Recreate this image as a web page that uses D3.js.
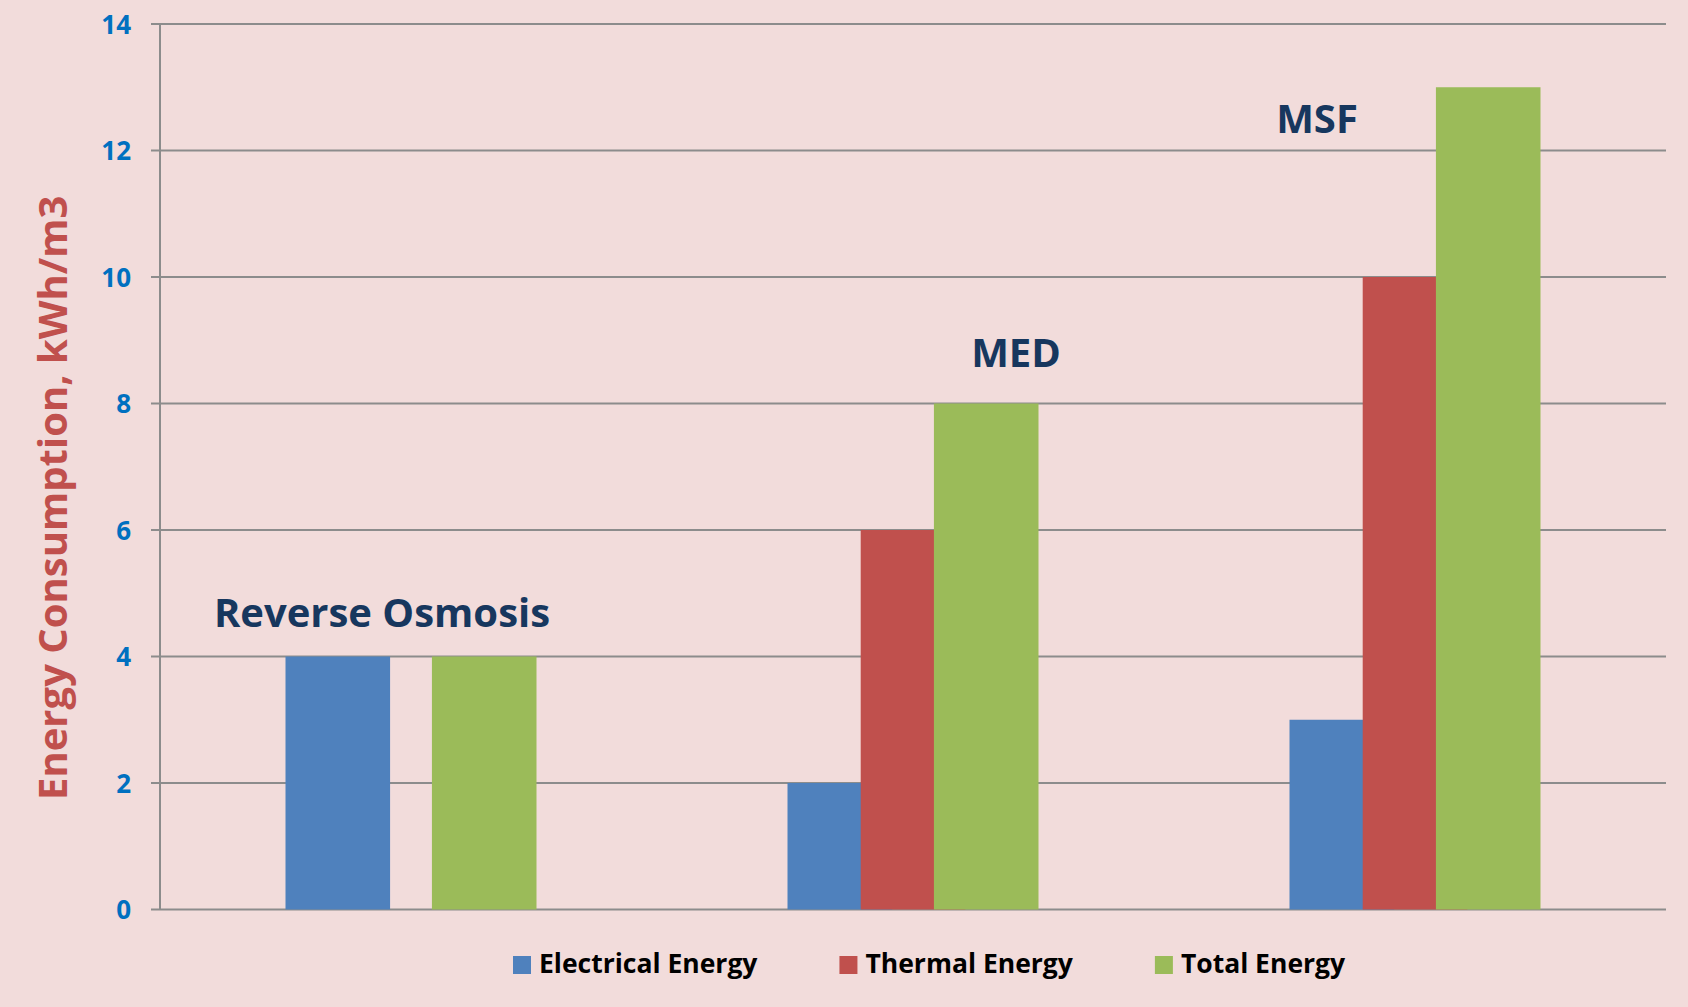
<!DOCTYPE html>
<html>
<head>
<meta charset="utf-8">
<script src="https://cdn.jsdelivr.net/npm/d3@7.9.0/dist/d3.min.js"></script>
<style>
  html, body { margin: 0; padding: 0; background: #F2DCDB; }
  svg { display: block; font-family: "Open Sans", "Lato", sans-serif; font-weight: bold; }
</style>
</head>
<body>
<svg id="chart" width="1688" height="1007"></svg>
<script>
const categories = ["Reverse Osmosis", "MED", "MSF"];
const seriesNames = ["Electrical Energy", "Thermal Energy", "Total Energy"];
const electrical = [4, 2, 3];
const thermal = [0, 6, 10];
const total = [4, 8, 13];
const yTicks = [0, 2, 4, 6, 8, 10, 12, 14];
// where the category labels sit (value units for y, px offset from group centre for x)
const labelY = [4.47, 8.58, 12.28];
const labelDx = [-29, 103, -98];

const colors = ["#4F81BD", "#C0504D", "#9BBB59"];
const seriesValues = [electrical, thermal, total];

const svg = d3.select("#chart");
const plotLeft = 160, plotRight = 1666, plotTop = 24, plotBottom = 909.5;

svg.append("rect").attr("width", 1688).attr("height", 1007).attr("fill", "#F2DCDB");

let x0 = d3.scaleBand().domain(categories).range([plotLeft, plotRight]).padding(0);
let y = d3.scaleLinear().domain([0, 14]).range([plotBottom, plotTop]);

// gridlines + ticks
svg.append("g")
  .selectAll("line")
  .data(yTicks)
  .join("line")
  .attr("x1", plotLeft - 9)
  .attr("x2", plotRight)
  .attr("y1", d => y(d))
  .attr("y2", d => y(d))
  .attr("stroke", "#8c8c8c")
  .attr("stroke-width", 2);

svg.append("line")
  .attr("x1", plotLeft).attr("x2", plotLeft)
  .attr("y1", y(14)).attr("y2", y(0))
  .attr("stroke", "#8c8c8c")
  .attr("stroke-width", 2);

svg.append("g")
  .selectAll("text")
  .data(yTicks)
  .join("text")
  .attr("x", 131)
  .attr("y", d => y(d) + 9.5)
  .attr("text-anchor", "end")
  .attr("fill", "#0070C0")
  .attr("font-size", 26)
  .text(d => d);

// bars: later series overlap the earlier ones
let groupW = x0.bandwidth() / 2;
let overlap = 0.3;
let barW = groupW / (3 - 2 * overlap);
let step = barW * (1 - overlap);

seriesValues.forEach((vals, s) => {
  svg.append("g")
    .selectAll("rect")
    .data(vals)
    .join("rect")
    .attr("x", (d, i) => x0(categories[i]) + x0.bandwidth() / 2 - groupW / 2 + s * step)
    .attr("y", d => y(d))
    .attr("width", barW)
    .attr("height", d => y(0) - y(d))
    .attr("fill", colors[s]);
});

// category labels
svg.append("g")
  .selectAll("text")
  .data(categories)
  .join("text")
  .attr("x", (d, i) => x0(d) + x0.bandwidth() / 2 + labelDx[i])
  .attr("y", (d, i) => y(labelY[i]))
  .attr("text-anchor", "middle")
  .attr("fill", "#17375E")
  .attr("font-size", 40)
  .text(d => d);

// y axis title
svg.append("text")
  .attr("transform", `translate(67, ${(plotTop + plotBottom) / 2 + 31}) rotate(-90)`)
  .attr("text-anchor", "middle")
  .attr("fill", "#C0504D")
  .attr("font-size", 40)
  .text("Energy Consumption, kWh/m3");

// legend
let legend = svg.append("g");
let lx = 513;
seriesNames.forEach((name, i) => {
  legend.append("rect")
    .attr("x", lx).attr("y", 956)
    .attr("width", 18).attr("height", 18)
    .attr("fill", colors[i]);
  let t = legend.append("text")
    .attr("x", lx + 26).attr("y", 973)
    .attr("fill", "#000")
    .attr("font-size", 26.5)
    .text(name);
  lx += 26 + t.node().getComputedTextLength() + 82;
});
</script>
</body>
</html>
